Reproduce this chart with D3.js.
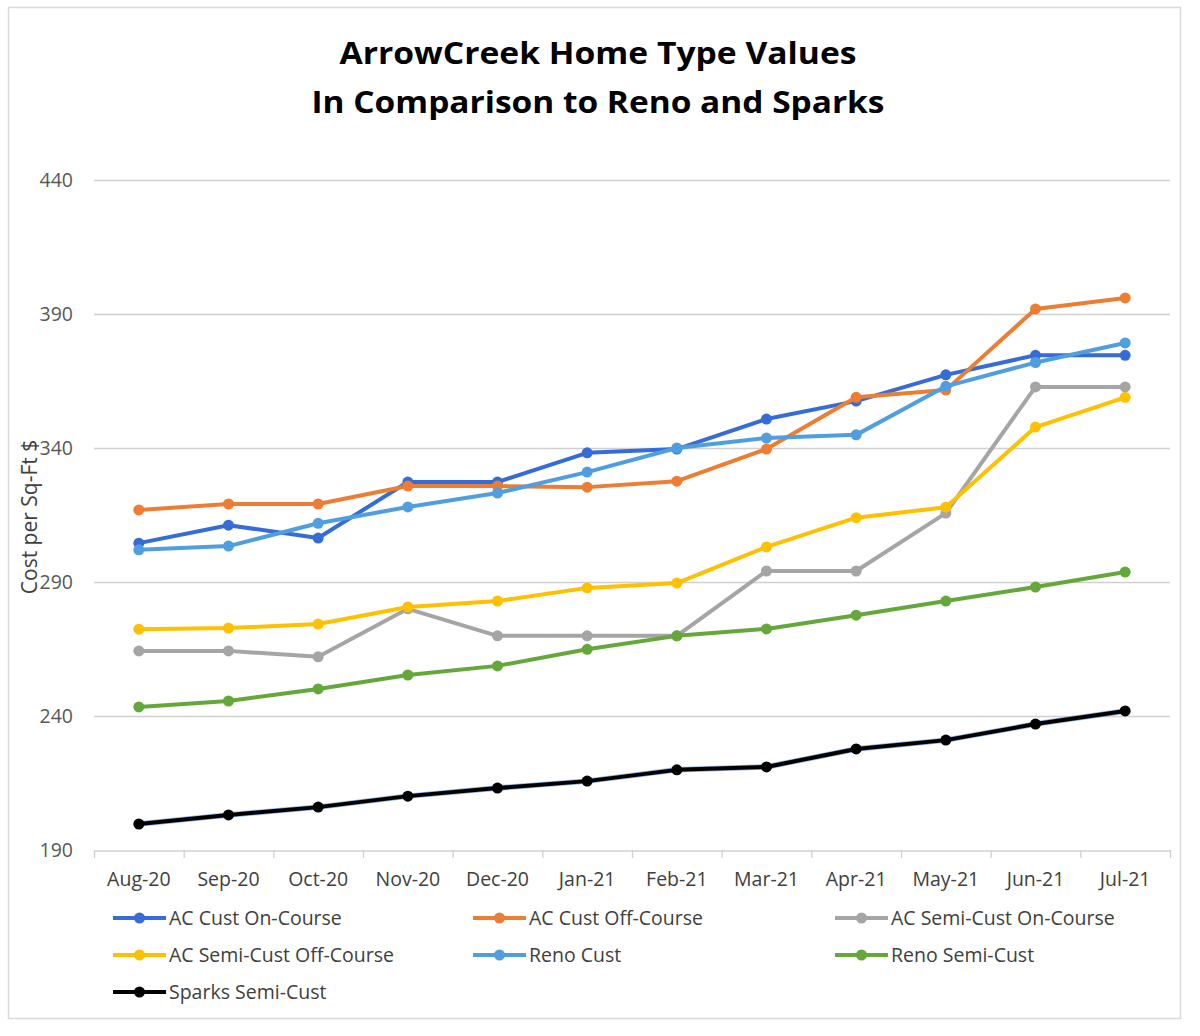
<!DOCTYPE html>
<html>
<head>
<meta charset="utf-8">
<script src="https://cdn.jsdelivr.net/npm/d3@7"></script>
<style>
  html, body { margin: 0; padding: 0; background: #fff; }
  svg { display: block; }
  text { font-family: "Open Sans", Lato, "Noto Sans", sans-serif; }
</style>
</head>
<body>
<svg id="chart" width="1200" height="1036"></svg>
<script>
const months = ["Aug-20","Sep-20","Oct-20","Nov-20","Dec-20","Jan-21","Feb-21","Mar-21","Apr-21","May-21","Jun-21","Jul-21"];
const yTicks = [190, 240, 290, 340, 390, 440];

const acCustOn      = [304.5, 311.2, 306.4, 327.3, 327.3, 338.2, 339.6, 350.8, 357.5, 367.3, 374.6, 374.6];
const acCustOff     = [316.9, 319.1, 319.1, 325.8, 325.8, 325.4, 327.6, 339.6, 358.9, 361.6, 391.9, 396.0];
const acSemiOn      = [264.3, 264.3, 262.1, 280.0, 269.9, 269.9, 269.9, 294.1, 294.1, 315.7, 362.8, 362.8];
const acSemiOff     = [272.4, 272.8, 274.3, 280.7, 282.9, 287.8, 289.6, 303.1, 314.0, 317.9, 347.8, 358.9];
const renoCust      = [302.0, 303.4, 311.9, 318.0, 323.2, 331.0, 340.0, 343.7, 344.9, 363.0, 371.9, 379.2];
const renoSemi      = [243.4, 245.6, 250.1, 255.3, 258.7, 264.9, 269.9, 272.5, 277.6, 282.9, 288.1, 293.7];
const sparksSemi    = [199.7, 203.1, 206.0, 210.1, 213.1, 215.7, 219.9, 221.0, 227.7, 231.0, 237.0, 241.9];

const seriesNames  = ["AC Cust On-Course","AC Cust Off-Course","AC Semi-Cust On-Course","AC Semi-Cust Off-Course","Reno Cust","Reno Semi-Cust","Sparks Semi-Cust"];
const seriesValues = [acCustOn, acCustOff, acSemiOn, acSemiOff, renoCust, renoSemi, sparksSemi];
const seriesColors = ["#356cd8","#ed7d31","#a5a5a5","#ffc000","#4f9fe0","#64a83a","#000000"];

const svg = d3.select("#chart");

// outer frame
svg.append("rect").attr("x", 8.5).attr("y", 7.5).attr("width", 1172).attr("height", 1011)
  .attr("fill", "#fff").attr("stroke", "#d9d9d9").attr("stroke-width", 1.5);

// title
const title = svg.append("text").attr("text-anchor", "middle").attr("font-weight", "bold")
  .attr("font-size", 31).attr("fill", "#000");
title.append("tspan").attr("x", 598).attr("y", 64)
  .attr("textLength", 517).attr("lengthAdjust", "spacingAndGlyphs").text("ArrowCreek Home Type Values");
title.append("tspan").attr("x", 598).attr("y", 113)
  .attr("textLength", 573).attr("lengthAdjust", "spacingAndGlyphs").text("In Comparison to Reno and Sparks");

const pLeft = 94, pRight = 1170, pTop = 180, pBottom = 850;
const x = d3.scaleBand().domain(months).range([pLeft, pRight]);
const y = d3.scaleLinear().domain([190, 440]).range([pBottom, pTop]);

// gridlines
svg.append("g").selectAll("line").data(yTicks.filter(d => d !== 190)).join("line")
  .attr("x1", pLeft).attr("x2", pRight)
  .attr("y1", d => y(d) + 0.5).attr("y2", d => y(d) + 0.5)
  .attr("stroke", "#d0d0d0").attr("stroke-width", 1.3);

// y axis labels
const yAxis = svg.append("g").attr("transform", `translate(${pLeft},0)`)
  .call(d3.axisLeft(y).tickValues(yTicks).tickSize(0).tickPadding(21).tickFormat(d3.format("d")));
yAxis.select(".domain").remove();
yAxis.selectAll("text").attr("font-size", 19.5).attr("fill", "#595959")
  .style("font-family", '"Open Sans", Lato, sans-serif');

// x axis
const xAxis = svg.append("g").attr("transform", `translate(0,${pBottom + 0.5})`)
  .call(d3.axisBottom(x).tickSize(0).tickPadding(22));
xAxis.select(".domain").attr("stroke", "#d0d0d0").attr("stroke-width", 1.3);
xAxis.selectAll("text").attr("font-size", 19.5).attr("fill", "#404040")
  .style("font-family", '"Open Sans", Lato, sans-serif');
// band boundary ticks
const bounds = months.map(m => x(m)).concat([pRight]);
svg.append("g").selectAll("line").data(bounds).join("line")
  .attr("x1", d => d + 0.5).attr("x2", d => d + 0.5)
  .attr("y1", pBottom).attr("y2", pBottom + 8)
  .attr("stroke", "#d0d0d0").attr("stroke-width", 1.3);

// y axis title
svg.append("text").attr("transform", "translate(37,517) rotate(-90)")
  .attr("text-anchor", "middle").attr("font-size", 21).attr("fill", "#404040")
  .text("Cost per Sq-Ft $");

// lines
const line = d3.line().x((d, i) => x(months[i]) + x.bandwidth() / 2).y(d => y(d));
const g = svg.append("g");
seriesValues.forEach((vals, si) => {
  const col = seriesColors[si];
  if (si === 6) {
    g.append("path").datum(vals).attr("d", line).attr("fill", "none")
      .attr("stroke", "#4a7fd0").attr("stroke-width", 5.5).attr("stroke-opacity", 0.6);
  }
  g.append("path").datum(vals).attr("d", line).attr("fill", "none")
    .attr("stroke", col).attr("stroke-width", 4).attr("stroke-linejoin", "round");
  g.append("g").selectAll("circle").data(vals).join("circle")
    .attr("cx", (d, i) => x(months[i]) + x.bandwidth() / 2)
    .attr("cy", d => y(d)).attr("r", 5.5).attr("fill", col);
});

// legend
const colX = [113, 473, 835];
const rowY = [918, 955, 992];
const leg = svg.append("g");
seriesNames.forEach((name, i) => {
  const lx = colX[i % 3], ly = rowY[Math.floor(i / 3)];
  const col = seriesColors[i];
  leg.append("line").attr("x1", lx).attr("x2", lx + 53).attr("y1", ly).attr("y2", ly)
    .attr("stroke", col).attr("stroke-width", 4);
  leg.append("circle").attr("cx", lx + 26.5).attr("cy", ly).attr("r", 5.5).attr("fill", col);
  leg.append("text").attr("x", lx + 56).attr("y", ly + 7).attr("font-size", 19.5)
    .attr("fill", "#404040").text(name);
});
</script>
</body>
</html>
